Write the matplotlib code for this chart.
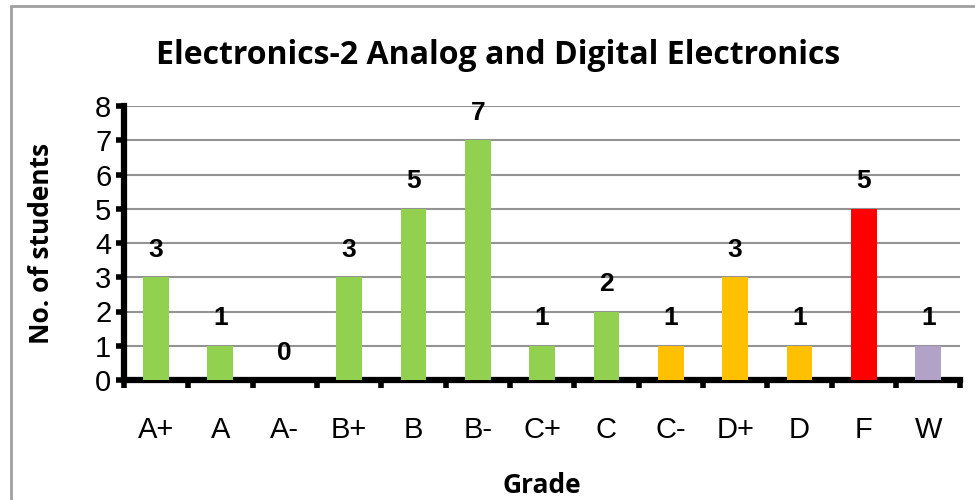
import numpy as np
import matplotlib.pyplot as plt
from matplotlib.patches import Rectangle

grades = ["A+", "A", "A-", "B+", "B", "B-", "C+", "C", "C-", "D+", "D", "F", "W"]
counts = [3, 1, 0, 3, 5, 7, 1, 2, 1, 3, 1, 5, 1]
bar_colors = ["#92D050"] * 8 + ["#FFC000"] * 3 + ["#FF0000", "#B2A2C7"]

plt.rcParams['font.family'] = ['Liberation Sans', 'DejaVu Sans']

fig = plt.figure(figsize=(9.75, 5), dpi=100)
ax = fig.add_axes([0.127, 0.24, 0.858, 0.548])

x = np.arange(len(grades))
ax.bar(x, counts, width=0.4, color=bar_colors, zorder=3)

for xi, v in zip(x, counts):
    ax.annotate(f"{v}", xy=(xi, v), xytext=(0, 11), textcoords="offset points",
                ha="center", va="bottom", fontsize=19, fontweight="bold")

ax.set_xlim(-0.5, len(grades) - 0.5)
ax.set_ylim(0, 8)
ax.set_yticks(range(0, 9))
ax.yaxis.grid(True, color="#939393", linewidth=1.5, zorder=0)
ax.set_axisbelow(True)

ax.set_xticks(x)
ax.set_xticklabels(grades, fontsize=21)
ax.set_xticks(np.arange(-0.5, len(grades)), minor=True)
ax.tick_params(axis="x", which="major", length=0, pad=26)
ax.tick_params(axis="x", which="minor", length=6, width=4, direction="out")
ax.tick_params(axis="y", labelsize=21, length=6, width=4, direction="out", pad=3)

for s in ["top", "right"]:
    ax.spines[s].set_visible(False)
for s in ["left", "bottom"]:
    ax.spines[s].set_linewidth(4.5)

ax.set_ylabel("No. of students", fontsize=19, fontweight="bold", family="Open Sans")
ax.yaxis.set_label_coords(-0.082, 0.5)
ax.set_xlabel("Grade", fontsize=19, fontweight="bold", family="Open Sans", labelpad=20)
ax.set_title("Electronics-2 Analog and Digital Electronics", fontsize=23,
             fontweight="bold", family="Open Sans", pad=30, x=0.447)

fig.patches.append(Rectangle((0.011, -0.02), 1.1, 1.008, transform=fig.transFigure,
                             fill=False, edgecolor="#a0a0a0", linewidth=2))

fig.savefig("out.png", dpi=100)
